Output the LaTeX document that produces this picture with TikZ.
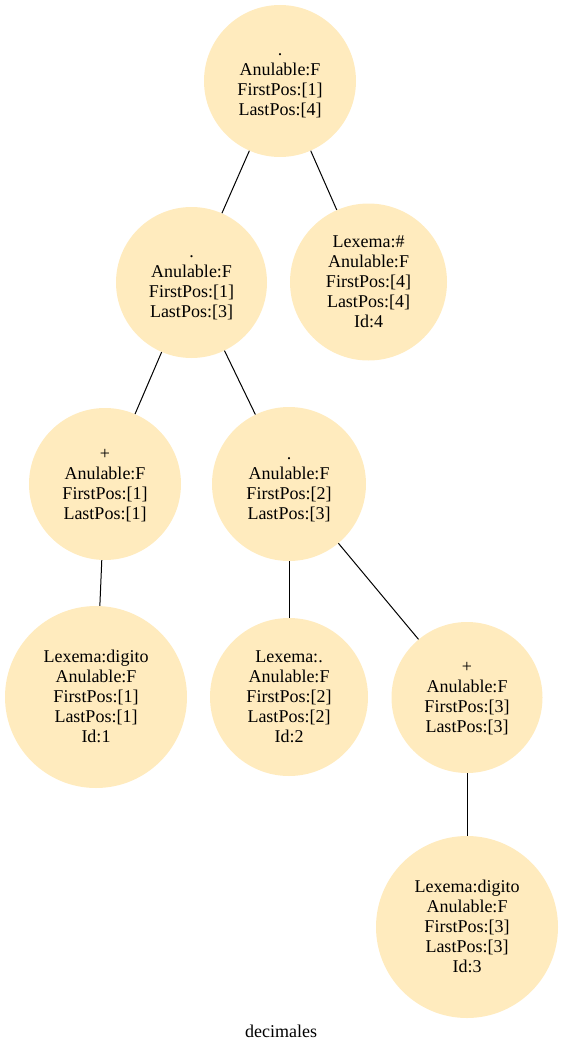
\documentclass[tikz,border=0pt]{standalone}
\usepackage{fontspec}
\setmainfont{Liberation Serif}
\definecolor{nodefill}{RGB}{255,235,190}
\newcommand\mystrut{\rule[-5pt]{0pt}{20pt}}
\begin{document}
\begin{tikzpicture}[x=1pt,y=-1pt,
  treenode/.style={circle, fill=nodefill, draw=none, align=center, inner sep=0pt,
    font=\fontsize{18}{20}\selectfont},
  edge/.style={draw=black, line width=1pt}]
\useasboundingbox (0,0) rectangle (562,1054);
\node[treenode, minimum size=152pt] (n1) at (280,81) {\mystrut.\\Anulable:F\\FirstPos:[1]\\LastPos:[4]\mystrut};
\node[treenode, minimum size=151pt] (n2) at (191.5,282.5) {\mystrut.\\Anulable:F\\FirstPos:[1]\\LastPos:[3]\mystrut};
\node[treenode, minimum size=157pt] (n3) at (368.5,282) {\mystrut Lexema:\#\\Anulable:F\\FirstPos:[4]\\LastPos:[4]\\Id:4\mystrut};
\node[treenode, minimum size=152pt] (n4) at (105,484) {\mystrut+\\Anulable:F\\FirstPos:[1]\\LastPos:[1]\mystrut};
\node[treenode, minimum size=154pt] (n5) at (289,484) {\mystrut.\\Anulable:F\\FirstPos:[2]\\LastPos:[3]\mystrut};
\node[treenode, minimum size=182pt] (n6) at (96,697) {\mystrut Lexema:digito\\Anulable:F\\FirstPos:[1]\\LastPos:[1]\\Id:1\mystrut};
\node[treenode, minimum size=158pt] (n7) at (289,697) {\mystrut Lexema:.\\Anulable:F\\FirstPos:[2]\\LastPos:[2]\\Id:2\mystrut};
\node[treenode, minimum size=151pt] (n8) at (467,697.5) {\mystrut+\\Anulable:F\\FirstPos:[3]\\LastPos:[3]\mystrut};
\node[treenode, minimum size=182pt] (n9) at (467,927) {\mystrut Lexema:digito\\Anulable:F\\FirstPos:[3]\\LastPos:[3]\\Id:3\mystrut};
\node[font=\fontsize{18}{20}\selectfont, inner sep=0pt] (title) at (281,1031) {decimales};
\draw[edge] (n1) -- (n2);
\draw[edge] (n1) -- (n3);
\draw[edge] (n2) -- (n4);
\draw[edge] (n2) -- (n5);
\draw[edge] (n4) -- (n6);
\draw[edge] (n5) -- (n7);
\draw[edge] (n5) -- (n8);
\draw[edge] (n8) -- (n9);
\end{tikzpicture}
\end{document}
